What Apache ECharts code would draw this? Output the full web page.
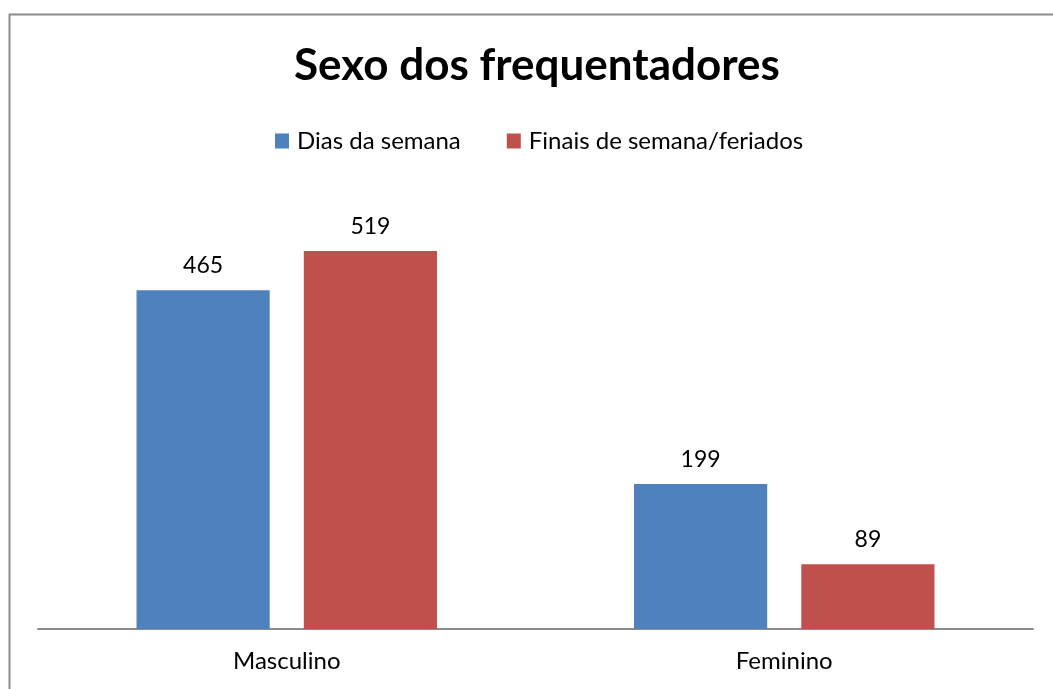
<!DOCTYPE html>
<html>
<head>
<meta charset="utf-8">
<script src="https://cdn.jsdelivr.net/npm/echarts@6/dist/echarts.min.js"></script>
<style>
html,body{margin:0;padding:0;background:#fff;}
#chart{width:1053px;height:689px;}
</style>
</head>
<body>
<div id="chart"></div>
<script>
var categories = ['Masculino', 'Feminino'];
var seriesNames = ['Dias da semana', 'Finais de semana/feriados'];
var diasSemana = [465, 199];
var finaisSemana = [519, 89];

var myChart = echarts.init(document.getElementById('chart'));
var fontFam = 'Lato, "Open Sans", sans-serif';

var option = {
    backgroundColor: '#fff',
    animation: false,
    color: ['#4F81BD', '#C0504D'],
    title: {
        text: 'Sexo dos frequentadores',
        left: 289,
        top: 39,
        textStyle: {fontFamily: fontFam, fontWeight: 'bold', fontSize: 44, color: '#000'}
    },
    legend: {
        data: seriesNames,
        top: 124,
        left: 270,
        itemWidth: 14,
        itemHeight: 15,
        itemGap: 46,
        icon: 'rect',
        textStyle: {fontFamily: fontFam, fontSize: 24, color: '#000', padding: [0, 0, 0, 3]}
    },
    graphic: [{
        type: 'rect',
        shape: {x: 9.5, y: 14.5, width: 1100, height: 700},
        style: {fill: 'none', stroke: '#8c8c8c', lineWidth: 2},
        silent: true
    }],
    grid: {left: 38, right: 20, top: 192, bottom: 60},
    xAxis: {
        type: 'category',
        data: categories,
        axisLine: {lineStyle: {color: '#8c8c8c', width: 2}},
        axisTick: {show: false},
        axisLabel: {fontFamily: fontFam, fontSize: 24, color: '#000', margin: 20}
    },
    yAxis: {
        type: 'value',
        min: 0,
        max: 600,
        show: false,
        splitLine: {show: false}
    },
    series: [{
        name: seriesNames[0],
        type: 'bar',
        data: diasSemana,
        barGap: '25.6%',
        barCategoryGap: '39.6%',
        label: {show: true, position: 'top', distance: 13, fontFamily: fontFam, fontSize: 23, color: '#000'}
    }, {
        name: seriesNames[1],
        type: 'bar',
        data: finaisSemana,
        label: {show: true, position: 'top', distance: 13, fontFamily: fontFam, fontSize: 23, color: '#000'}
    }]
};
myChart.setOption(option);
</script>
</body>
</html>
